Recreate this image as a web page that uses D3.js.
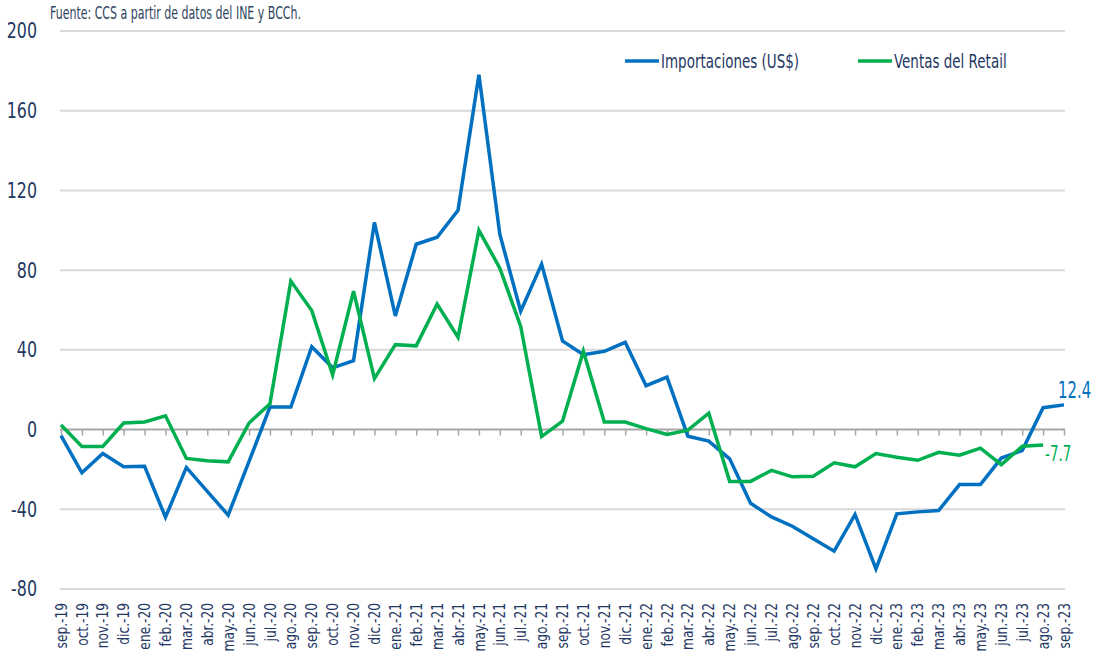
<!DOCTYPE html>
<html>
<head>
<meta charset="utf-8">
<script src="https://cdn.jsdelivr.net/npm/d3@7"></script>
<style>
  html, body { margin: 0; padding: 0; background: #fff; }
  svg text { font-family: "DejaVu Sans Condensed", "Liberation Sans Narrow", "Arial Narrow", sans-serif; }
</style>
</head>
<body>
<svg id="chart" width="1094" height="662"></svg>
<script>
const months = ["sep.-19","oct.-19","nov.-19","dic.-19","ene.-20","feb.-20","mar.-20","abr.-20","may.-20","jun.-20","jul.-20","ago.-20","sep.-20","oct.-20","nov.-20","dic.-20","ene.-21","feb.-21","mar.-21","abr.-21","may.-21","jun.-21","jul.-21","ago.-21","sep.-21","oct.-21","nov.-21","dic.-21","ene.-22","feb.-22","mar.-22","abr.-22","may.-22","jun.-22","jul.-22","ago.-22","sep.-22","oct.-22","nov.-22","dic.-22","ene.-23","feb.-23","mar.-23","abr.-23","may.-23","jun.-23","jul.-23","ago.-23","sep.-23"];

const importaciones = [-3,-21.7,-12,-18.7,-18.4,-44,-19,-31,-42.9,-16,11.3,11.3,41.6,31,34.6,104,57,93,96.5,110,178,98,59.4,83,44.5,37.6,39.3,43.8,22,26.3,-3.3,-5.8,-14.7,-37,-43.8,-48.5,-54.8,-61,-42.6,-69.9,-42.3,-41.3,-40.6,-27.6,-27.6,-14.3,-10.5,11,12.4];

const ventas = [2.3,-8.5,-8.5,3.3,3.8,6.9,-14.5,-15.7,-16.2,3.3,12.9,74.5,59.7,27.4,69.4,25.6,42.6,42,63,46.3,100,81,51.8,-3.5,4.2,39.3,3.8,3.8,0.5,-2.5,-0.3,8.2,-26,-26,-20.5,-23.7,-23.4,-16.7,-18.7,-12,-13.9,-15.4,-11.4,-12.9,-9.3,-17.6,-8.4,-7.7];

const yTicks = [-80,-40,0,40,80,120,160,200];
const seriesNames = ["Importaciones (US$)", "Ventas del Retail"];
const colors = ["#0070c0", "#00b050"];
const source = "Fuente: CCS a partir de datos del INE y BCCh.";

(function () {
const svg = d3.select("#chart");
const mLeft = 61, mRight = 1064, mTop = 31, mBottom = 589;

const x = d3.scalePoint().domain(months).range([mLeft, mRight]);
const y = d3.scaleLinear().domain([-80, 200]).range([mBottom, mTop]);

const textColor = "#1f3864";

// condensed text helper
function ctext(parent, tx, ty, str, opts) {
  const o = Object.assign({size: 16, sx: 0.8, anchor: "start", fill: textColor, dy: null, rot: 0}, opts || {});
  const t = parent.append("text")
    .attr("transform", `translate(${tx},${ty})` + (o.rot ? ` rotate(${o.rot})` : "") + ` scale(${o.sx},1)`)
    .attr("text-anchor", o.anchor).attr("fill", o.fill).attr("font-size", o.size)
    .text(str);
  if (o.dy) t.attr("dy", o.dy);
  return t;
}

// gridlines
svg.append("g").selectAll("line").data(yTicks.filter(d => d !== 0)).join("line")
  .attr("x1", mLeft - 1).attr("x2", mRight + 1)
  .attr("y1", d => y(d)).attr("y2", d => y(d))
  .attr("stroke", "#d9d9d9").attr("stroke-width", 2);

// y labels
const gy = svg.append("g");
yTicks.forEach(d => ctext(gy, 37, y(d), d, {size: 21, sx: 0.84, anchor: "end", dy: "0.35em"}));

// zero axis with ticks
const xAxis = d3.axisBottom(x).tickSize(6).tickFormat("");
const gx = svg.append("g").attr("transform", `translate(0,${y(0)})`).call(xAxis);
gx.select(".domain").attr("stroke", "#a6a6a6").attr("stroke-width", 2)
  .attr("d", `M${mLeft - 1},0H${mRight + 1}`);
gx.selectAll(".tick line").attr("stroke", "#a6a6a6").attr("stroke-width", 1.5);

// x labels (rotated)
const gl = svg.append("g");
months.forEach(m => ctext(gl, x(m), 603, m, {size: 16, sx: 0.85, anchor: "end", dy: "0.35em", rot: -90}));

// lines
const line = d3.line().x((d, i) => x(months[i])).y(d => y(d));
[importaciones, ventas].forEach((s, k) => {
  svg.append("path").datum(s)
    .attr("fill", "none").attr("stroke", colors[k])
    .attr("stroke-width", 3.5).attr("stroke-linejoin", "miter")
    .attr("d", line);
});

// end labels
const li = importaciones.length - 1, lv = ventas.length - 1;
ctext(svg, x(months[li]) - 6, y(importaciones[li]) - 7, importaciones[li], {size: 23, sx: 0.72, fill: colors[0]});
ctext(svg, x(months[lv]) + 2, y(ventas[lv]) + 16, ventas[lv], {size: 22, sx: 0.68, fill: colors[1]});

// legend
const legendX = [625, 858];
seriesNames.forEach((n, k) => {
  svg.append("line").attr("x1", legendX[k]).attr("x2", legendX[k] + 34)
    .attr("y1", 61).attr("y2", 61).attr("stroke", colors[k]).attr("stroke-width", 3.5);
  ctext(svg, legendX[k] + 36, 61, n, {size: 20, sx: 0.75, dy: "0.35em"});
});

// source
ctext(svg, 50, 13, source, {size: 17, sx: 0.72, fill: "#2f4560", dy: "0.35em"});
})();
</script>
</body>
</html>
